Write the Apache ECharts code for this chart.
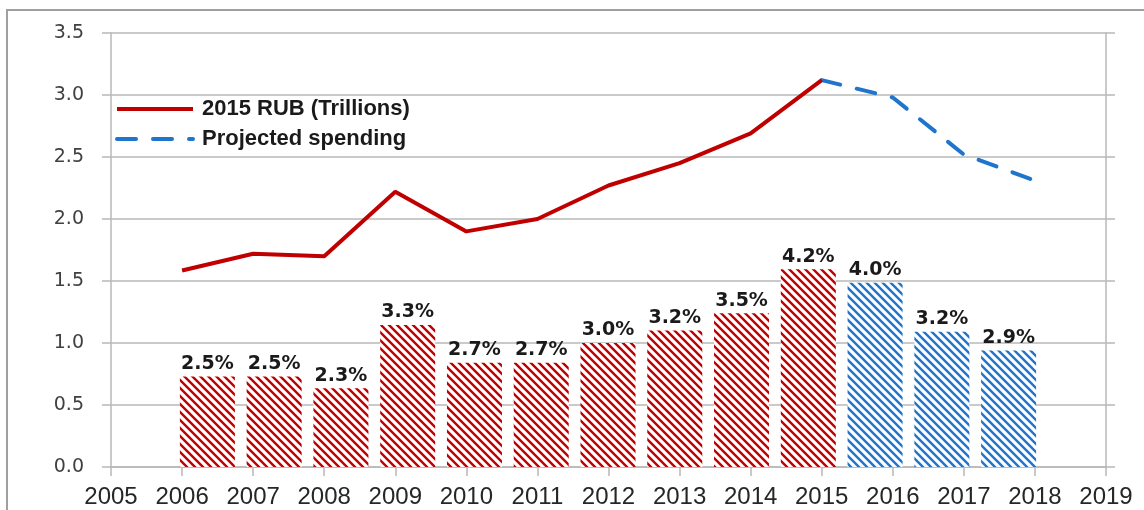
<!DOCTYPE html>
<html>
<head>
<meta charset="utf-8">
<script src="https://cdn.jsdelivr.net/npm/echarts@6/dist/echarts.min.js"></script>
<style>
  html, body { margin: 0; padding: 0; background: #fff; }
  #chart { width: 1144px; height: 510px; }
</style>
</head>
<body>
<div id="chart"></div>
<script>
  // years on the value axis, bars per year, % labels over the bars
  const barYears = ["2006", "2007", "2008", "2009", "2010", "2011", "2012", "2013", "2014", "2015", "2016", "2017", "2018"];
  const actualBars = [0.73, 0.73, 0.635, 1.145, 0.84, 0.84, 1.0, 1.1, 1.24, 1.595, "-", "-", "-"];
  const projectedBars = ["-", "-", "-", "-", "-", "-", "-", "-", "-", "-", 1.485, 1.09, 0.94];
  const pctLabels = [2.5, 2.5, 2.3, 3.3, 2.7, 2.7, 3.0, 3.2, 3.5, 4.2, 4.0, 3.2, 2.9];

  const rubYears = [2006, 2007, 2008, 2009, 2010, 2011, 2012, 2013, 2014, 2015];
  const rubValues = [1.585, 1.72, 1.70, 2.22, 1.90, 2.00, 2.27, 2.45, 2.69, 3.12];
  const projYears = [2015, 2016, 2017, 2018];
  const projValues = [3.12, 2.98, 2.52, 2.31];

  const red = "#c00000";
  const blue = "#1f75cc";

  function hatch(color) {
    const c = document.createElement("canvas");
    c.width = 8;
    c.height = 8;
    const ctx = c.getContext("2d");
    ctx.fillStyle = "#fff";
    ctx.fillRect(0, 0, 8, 8);
    ctx.strokeStyle = color;
    ctx.lineWidth = 2.4;
    ctx.beginPath();
    ctx.moveTo(-8, -8); ctx.lineTo(16, 16);
    ctx.moveTo(-8, 0); ctx.lineTo(8, 16);
    ctx.moveTo(0, -8); ctx.lineTo(16, 8);
    ctx.stroke();
    return { image: c, repeat: "repeat" };
  }

  const chart = echarts.init(document.getElementById("chart"));
  const gray = "#b8b8b8";
  const barLabel = {
    show: true,
    position: "top",
    distance: 3,
    fontFamily: "DejaVu Sans",
    fontWeight: "bold",
    fontSize: 19,
    color: "#1a1a1a",
    formatter: (p) => pctLabels[p.dataIndex].toFixed(1) + "%"
  };

  chart.setOption({
    animation: false,
    graphic: [
      { type: "polyline", shape: { points: [[7, 510], [7, 10], [1144, 10]] }, style: { stroke: "#a0a0a0", lineWidth: 2, fill: null } }
    ],
    legend: {
      orient: "vertical",
      left: 110,
      top: 93,
      itemWidth: 76,
      itemHeight: 14,
      itemGap: 8,
      itemStyle: { color: "rgba(0,0,0,0)", borderColor: "rgba(0,0,0,0)", borderWidth: 0 },
      lineStyle: { width: 4 },
      textStyle: { fontFamily: "Liberation Sans", fontWeight: "bold", fontSize: 22, color: "#1a1a1a", padding: [0, 0, 0, 4] },
      data: ["2015 RUB (Trillions)", "Projected spending"]
    },
    grid: [
      { left: 111, right: 38, top: 33, bottom: 43 },
      { left: 174, right: 102, top: 33, bottom: 43 }
    ],
    xAxis: [
      {
        type: "value", min: 2005, max: 2019, interval: 1, gridIndex: 0,
        axisLine: { lineStyle: { color: gray, width: 1.5 } },
        axisTick: { show: true, length: 9, lineStyle: { color: gray, width: 1.5 } },
        splitLine: { show: false },
        axisLabel: { fontFamily: "'Liberation Sans Narrow', 'Arial Narrow', 'Liberation Sans'", fontSize: 24, color: "#262626", margin: 18, formatter: (v) => String(v) }
      },
      { type: "category", data: barYears, gridIndex: 1, show: false }
    ],
    yAxis: [
      {
        type: "value", min: 0, max: 3.5, interval: 0.5, gridIndex: 0,
        axisLine: { show: true, lineStyle: { color: gray, width: 1.5 } },
        axisTick: { show: true, length: 9, lineStyle: { color: gray, width: 1.5 } },
        splitLine: { lineStyle: { color: gray, width: 1.5 } },
        axisLabel: { fontFamily: "DejaVu Sans", fontSize: 19, color: "#404040", margin: 27, formatter: (v) => v.toFixed(1) }
      },
      {
        type: "value", min: 0, max: 3.5, interval: 0.5, gridIndex: 0, position: "right",
        axisLine: { show: true, lineStyle: { color: gray, width: 1.5 } },
        axisTick: { show: true, length: 9, lineStyle: { color: gray, width: 1.5 } },
        splitLine: { show: false },
        axisLabel: { show: false }
      },
      { type: "value", min: 0, max: 3.5, gridIndex: 1, show: false, splitLine: { show: false } }
    ],
    series: [
      {
        name: "actual %", type: "bar", xAxisIndex: 1, yAxisIndex: 2,
        barWidth: 55, barGap: "-100%", data: actualBars,
        itemStyle: { color: hatch(red) }, label: barLabel, z: 2
      },
      {
        name: "projected %", type: "bar", xAxisIndex: 1, yAxisIndex: 2,
        barWidth: 55, barGap: "-100%", data: projectedBars,
        itemStyle: { color: hatch(blue) }, label: barLabel, z: 2
      },
      {
        name: "2015 RUB (Trillions)", type: "line", xAxisIndex: 0, yAxisIndex: 0,
        data: rubYears.map((y, i) => [y, rubValues[i]]),
        symbol: "none", itemStyle: { color: red },
        lineStyle: { color: red, width: 4 }, z: 5
      },
      {
        name: "Projected spending", type: "line", xAxisIndex: 0, yAxisIndex: 0,
        data: projYears.map((y, i) => [y, projValues[i]]),
        symbol: "none", itemStyle: { color: blue },
        lineStyle: { color: blue, width: 4, type: [19, 17], cap: "round" }, z: 4
      }
    ]
  });
</script>
</body>
</html>
